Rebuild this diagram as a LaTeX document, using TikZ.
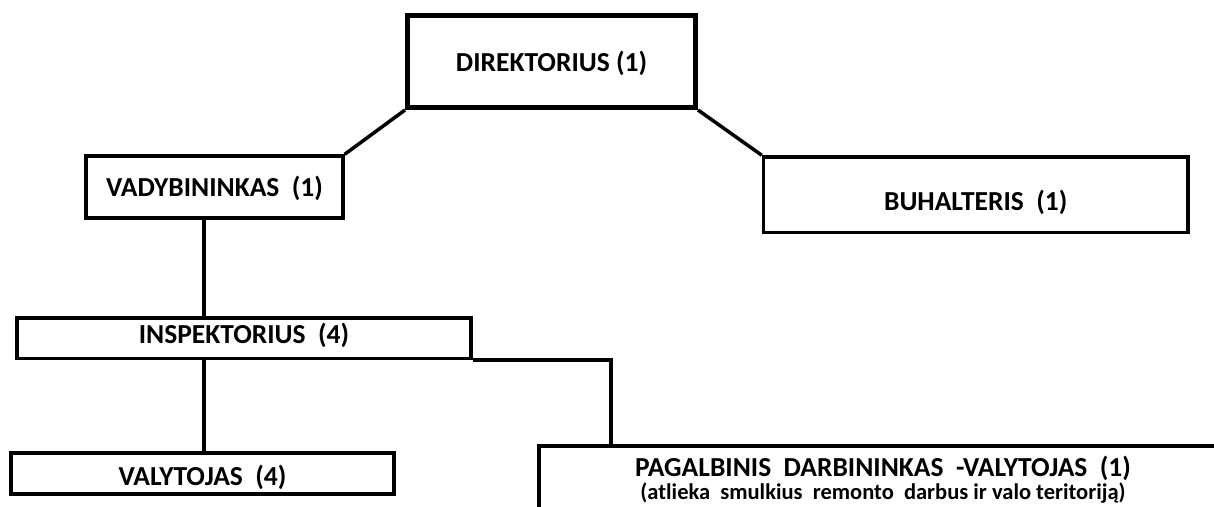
\documentclass[tikz,border=0pt]{standalone}
\usepackage{fontspec}
\setmainfont{Carlito}
\begin{document}
\begin{tikzpicture}[x=1pt,y=-1pt,
  box/.style={draw, line width=3.5pt, inner sep=0pt},
  lbl/.style={inner sep=0pt, align=center, font=\bfseries\fontsize{27.5}{30}\selectfont},
  conn/.style={line width=3.5pt}]
\useasboundingbox (0,0) rectangle (1214,506);
\clip (0,0) rectangle (1214,506);
\node[box, line width=5pt, minimum width=288pt, minimum height=92pt,
  label={[lbl, name=DIRt, yshift=-1.5pt]center:DIREKTORIUS (1)}] (DIR) at (551.5,61.5) {};
\node[box, minimum width=257pt, minimum height=62pt,
  label={[lbl, name=VADt, yshift=-1pt]center:VADYBININKAS~~(1)}] (VAD) at (214.5,187) {};
\node[box, minimum width=424.5pt, minimum height=75.5pt,
  label={[lbl, name=BUHt, yshift=-8pt]center:BUHALTERIS~~(1)}] (BUH) at (975.75,194.75) {};
\node[box, minimum width=454pt, minimum height=40.5pt,
  label={[lbl, name=INSt, yshift=2.5pt]center:INSPEKTORIUS~~(4)}] (INS) at (244,338) {};
\node[box, minimum width=383pt, minimum height=41pt,
  label={[lbl, name=VALt, yshift=-3.5pt]center:VALYTOJAS~~(4)}] (VAL) at (202.5,473.5) {};
\node[box, minimum width=688pt, minimum height=84pt,
  label={[lbl, name=PAGt, yshift=6pt]center:{\begin{tabular}{@{}c@{}}PAGALBINIS~~DARBININKAS~~-VALYTOJAS~~(1)\\[-7pt]{\fontsize{22.5}{24}\selectfont(atlieka~~smulkius~~remonto~~darbus~ir~valo~teritoriją)}\end{tabular}}}] (PAG) at (883,488) {};
\coordinate (vx) at (204,0);
\coordinate (px) at (611,0);
\draw[conn] (DIR.south west) -- (VAD.north east);
\draw[conn] (DIR.south east) -- (BUH.north west);
\draw[conn] (vx |- VAD.south) -- (vx |- INS.north);
\draw[conn] (vx |- INS.south) -- (vx |- VAL.north);
\draw[conn] (INS.south east) -| (px |- PAG.north);
\end{tikzpicture}
\end{document}
